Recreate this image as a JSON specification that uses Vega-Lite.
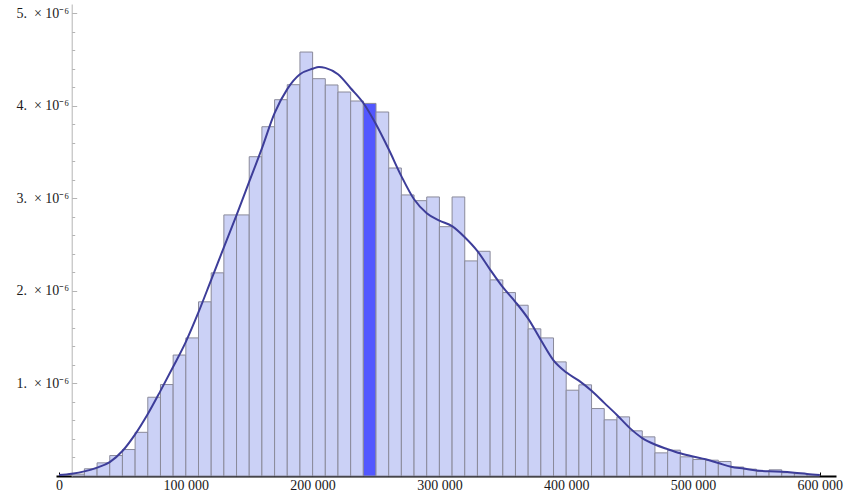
{
  "$schema": "https://vega.github.io/schema/vega-lite/v6.json",
  "width": 780,
  "height": 472,
  "autosize": {"type": "none"},
  "padding": {"left": 56, "top": 4, "right": 8, "bottom": 17},
  "background": "white",
  "config": {
    "view": {"stroke": null},
    "axis": {"labelFont": "Liberation Serif", "labelFontSize": 14, "labelColor": "#1a1a1a", "grid": false, "labelOverlap": false}
  },
  "datasets": {
    "bins": [
      {"bin_start": 10000, "bin_end": 20000, "density": 0.02e-6, "sel": "no"},
      {"bin_start": 20000, "bin_end": 30000, "density": 0.078e-6, "sel": "no"},
      {"bin_start": 30000, "bin_end": 40000, "density": 0.142e-6, "sel": "no"},
      {"bin_start": 40000, "bin_end": 50000, "density": 0.221e-6, "sel": "no"},
      {"bin_start": 50000, "bin_end": 60000, "density": 0.286e-6, "sel": "no"},
      {"bin_start": 60000, "bin_end": 70000, "density": 0.472e-6, "sel": "no"},
      {"bin_start": 70000, "bin_end": 80000, "density": 0.851e-6, "sel": "no"},
      {"bin_start": 80000, "bin_end": 90000, "density": 0.988e-6, "sel": "no"},
      {"bin_start": 90000, "bin_end": 100000, "density": 1.307e-6, "sel": "no"},
      {"bin_start": 100000, "bin_end": 110000, "density": 1.492e-6, "sel": "no"},
      {"bin_start": 110000, "bin_end": 120000, "density": 1.882e-6, "sel": "no"},
      {"bin_start": 120000, "bin_end": 130000, "density": 2.195e-6, "sel": "no"},
      {"bin_start": 130000, "bin_end": 140000, "density": 2.821e-6, "sel": "no"},
      {"bin_start": 140000, "bin_end": 150000, "density": 2.821e-6, "sel": "no"},
      {"bin_start": 150000, "bin_end": 160000, "density": 3.450e-6, "sel": "no"},
      {"bin_start": 160000, "bin_end": 170000, "density": 3.774e-6, "sel": "no"},
      {"bin_start": 170000, "bin_end": 180000, "density": 4.066e-6, "sel": "no"},
      {"bin_start": 180000, "bin_end": 190000, "density": 4.228e-6, "sel": "no"},
      {"bin_start": 190000, "bin_end": 200000, "density": 4.581e-6, "sel": "no"},
      {"bin_start": 200000, "bin_end": 210000, "density": 4.293e-6, "sel": "no"},
      {"bin_start": 210000, "bin_end": 220000, "density": 4.225e-6, "sel": "no"},
      {"bin_start": 220000, "bin_end": 230000, "density": 4.149e-6, "sel": "no"},
      {"bin_start": 230000, "bin_end": 240000, "density": 4.052e-6, "sel": "no"},
      {"bin_start": 240000, "bin_end": 250000, "density": 4.026e-6, "sel": "yes"},
      {"bin_start": 250000, "bin_end": 260000, "density": 3.933e-6, "sel": "no"},
      {"bin_start": 260000, "bin_end": 270000, "density": 3.328e-6, "sel": "no"},
      {"bin_start": 270000, "bin_end": 280000, "density": 3.037e-6, "sel": "no"},
      {"bin_start": 280000, "bin_end": 290000, "density": 2.975e-6, "sel": "no"},
      {"bin_start": 290000, "bin_end": 300000, "density": 3.015e-6, "sel": "no"},
      {"bin_start": 300000, "bin_end": 310000, "density": 2.694e-6, "sel": "no"},
      {"bin_start": 310000, "bin_end": 320000, "density": 3.015e-6, "sel": "no"},
      {"bin_start": 320000, "bin_end": 330000, "density": 2.324e-6, "sel": "no"},
      {"bin_start": 330000, "bin_end": 340000, "density": 2.428e-6, "sel": "no"},
      {"bin_start": 340000, "bin_end": 350000, "density": 2.119e-6, "sel": "no"},
      {"bin_start": 350000, "bin_end": 360000, "density": 1.982e-6, "sel": "no"},
      {"bin_start": 360000, "bin_end": 370000, "density": 1.845e-6, "sel": "no"},
      {"bin_start": 370000, "bin_end": 380000, "density": 1.590e-6, "sel": "no"},
      {"bin_start": 380000, "bin_end": 390000, "density": 1.492e-6, "sel": "no"},
      {"bin_start": 390000, "bin_end": 400000, "density": 1.233e-6, "sel": "no"},
      {"bin_start": 400000, "bin_end": 410000, "density": 0.927e-6, "sel": "no"},
      {"bin_start": 410000, "bin_end": 420000, "density": 0.985e-6, "sel": "no"},
      {"bin_start": 420000, "bin_end": 430000, "density": 0.729e-6, "sel": "no"},
      {"bin_start": 430000, "bin_end": 440000, "density": 0.607e-6, "sel": "no"},
      {"bin_start": 440000, "bin_end": 450000, "density": 0.639e-6, "sel": "no"},
      {"bin_start": 450000, "bin_end": 460000, "density": 0.488e-6, "sel": "no"},
      {"bin_start": 460000, "bin_end": 470000, "density": 0.423e-6, "sel": "no"},
      {"bin_start": 470000, "bin_end": 480000, "density": 0.250e-6, "sel": "no"},
      {"bin_start": 480000, "bin_end": 490000, "density": 0.279e-6, "sel": "no"},
      {"bin_start": 490000, "bin_end": 500000, "density": 0.207e-6, "sel": "no"},
      {"bin_start": 500000, "bin_end": 510000, "density": 0.178e-6, "sel": "no"},
      {"bin_start": 510000, "bin_end": 520000, "density": 0.171e-6, "sel": "no"},
      {"bin_start": 520000, "bin_end": 530000, "density": 0.157e-6, "sel": "no"},
      {"bin_start": 530000, "bin_end": 540000, "density": 0.097e-6, "sel": "no"},
      {"bin_start": 540000, "bin_end": 550000, "density": 0.074e-6, "sel": "no"},
      {"bin_start": 550000, "bin_end": 560000, "density": 0.050e-6, "sel": "no"},
      {"bin_start": 560000, "bin_end": 570000, "density": 0.067e-6, "sel": "no"},
      {"bin_start": 570000, "bin_end": 580000, "density": 0.035e-6, "sel": "no"},
      {"bin_start": 580000, "bin_end": 590000, "density": 0.024e-6, "sel": "no"},
      {"bin_start": 590000, "bin_end": 600000, "density": 0.012e-6, "sel": "no"}
    ],
    "curve": [
      {"x": 0, "y": 0.010e-6}, {"x": 10000, "y": 0.025e-6}, {"x": 20000, "y": 0.05e-6},
      {"x": 30000, "y": 0.09e-6}, {"x": 40000, "y": 0.15e-6}, {"x": 50000, "y": 0.27e-6},
      {"x": 60000, "y": 0.45e-6}, {"x": 70000, "y": 0.67e-6}, {"x": 80000, "y": 0.92e-6},
      {"x": 90000, "y": 1.18e-6}, {"x": 100000, "y": 1.45e-6}, {"x": 110000, "y": 1.77e-6},
      {"x": 120000, "y": 2.12e-6}, {"x": 130000, "y": 2.47e-6}, {"x": 140000, "y": 2.82e-6},
      {"x": 150000, "y": 3.18e-6}, {"x": 160000, "y": 3.54e-6}, {"x": 170000, "y": 3.92e-6},
      {"x": 180000, "y": 4.18e-6}, {"x": 190000, "y": 4.34e-6}, {"x": 200000, "y": 4.40e-6},
      {"x": 205000, "y": 4.42e-6}, {"x": 210000, "y": 4.41e-6}, {"x": 220000, "y": 4.34e-6},
      {"x": 230000, "y": 4.19e-6}, {"x": 240000, "y": 4.03e-6}, {"x": 250000, "y": 3.80e-6},
      {"x": 260000, "y": 3.53e-6}, {"x": 270000, "y": 3.24e-6}, {"x": 280000, "y": 2.99e-6},
      {"x": 290000, "y": 2.84e-6}, {"x": 300000, "y": 2.76e-6}, {"x": 310000, "y": 2.70e-6},
      {"x": 320000, "y": 2.58e-6}, {"x": 330000, "y": 2.43e-6}, {"x": 340000, "y": 2.23e-6},
      {"x": 350000, "y": 2.04e-6}, {"x": 360000, "y": 1.88e-6}, {"x": 370000, "y": 1.70e-6},
      {"x": 380000, "y": 1.47e-6}, {"x": 390000, "y": 1.25e-6}, {"x": 400000, "y": 1.12e-6},
      {"x": 410000, "y": 1.03e-6}, {"x": 420000, "y": 0.92e-6}, {"x": 430000, "y": 0.79e-6},
      {"x": 440000, "y": 0.66e-6}, {"x": 450000, "y": 0.52e-6}, {"x": 460000, "y": 0.41e-6},
      {"x": 470000, "y": 0.34e-6}, {"x": 480000, "y": 0.29e-6}, {"x": 490000, "y": 0.245e-6},
      {"x": 500000, "y": 0.21e-6}, {"x": 510000, "y": 0.18e-6}, {"x": 520000, "y": 0.14e-6},
      {"x": 530000, "y": 0.10e-6}, {"x": 540000, "y": 0.08e-6}, {"x": 550000, "y": 0.06e-6},
      {"x": 560000, "y": 0.05e-6}, {"x": 570000, "y": 0.045e-6}, {"x": 580000, "y": 0.035e-6},
      {"x": 590000, "y": 0.022e-6}, {"x": 600000, "y": 0.012e-6}
    ]
  },
  "layer": [
    {
      "data": {"name": "bins"},
      "mark": {"type": "bar", "stroke": "#8a8a9a", "strokeWidth": 1},
      "encoding": {
        "x": {
          "field": "bin_start", "type": "quantitative",
          "scale": {"domain": [-2400, 612800], "nice": false, "zero": false},
          "axis": {
            "title": null,
            "tickCount": 200,
            "values": [0, 20000, 40000, 60000, 80000, 100000, 120000, 140000, 160000, 180000, 200000, 220000, 240000, 260000, 280000, 300000, 320000, 340000, 360000, 380000, 400000, 420000, 440000, 460000, 480000, 500000, 520000, 540000, 560000, 580000, 600000],
            "labelExpr": "datum.value % 100000 === 0 ? replace(format(datum.value, ','), ',', ' ') : ''",
            "labelFlush": false,
            "labelOverlap": false,
            "labelPadding": 6,
            "domainColor": "#000000",
            "domainWidth": 2,
            "tickColor": "#000000",
            "tickWidth": 1,
            "tickSize": {"condition": {"test": "datum.value % 100000 === 0", "value": -4}, "value": -3}
          }
        },
        "x2": {"field": "bin_end"},
        "y": {
          "field": "density", "type": "quantitative",
          "scale": {"domain": [0, 5.1e-6], "nice": false},
          "axis": {
            "title": null,
            "tickCount": 200,
            "offset": -15.7,
            "values": [2e-7, 4e-7, 6e-7, 8e-7, 1e-6, 1.2e-6, 1.4e-6, 1.6e-6, 1.8e-6, 2e-6, 2.2e-6, 2.4e-6, 2.6e-6, 2.8e-6, 3e-6, 3.2e-6, 3.4e-6, 3.6e-6, 3.8e-6, 4e-6, 4.2e-6, 4.4e-6, 4.6e-6, 4.8e-6, 5e-6],
            "labelExpr": "abs(datum.value*1e6 - round(datum.value*1e6)) < 1e-6 ? round(datum.value*1e6) + '.\u2002× 10⁻⁶' : ''",
            "labelOverlap": false,
            "labelPadding": 8,
            "domainColor": "#b4b4b4",
            "domainWidth": 1,
            "tickColor": "#b4b4b4",
            "tickWidth": 1,
            "tickSize": {"condition": {"test": "abs(datum.value*1e6 - round(datum.value*1e6)) < 1e-6", "value": -5}, "value": -3}
          }
        },
        "y2": {"datum": 0},
        "color": {
          "field": "sel", "type": "nominal",
          "scale": {"domain": ["no", "yes"], "range": ["#CBD1F6", "#5257FF"]},
          "legend": null
        }
      }
    },
    {
      "data": {"name": "curve"},
      "mark": {"type": "line", "color": "#3D3D99", "strokeWidth": 2, "interpolate": "monotone"},
      "encoding": {
        "x": {"field": "x", "type": "quantitative", "axis": {"labelOverlap": false}},
        "y": {"field": "y", "type": "quantitative", "axis": {"labelOverlap": false}}
      }
    }
  ]
}
